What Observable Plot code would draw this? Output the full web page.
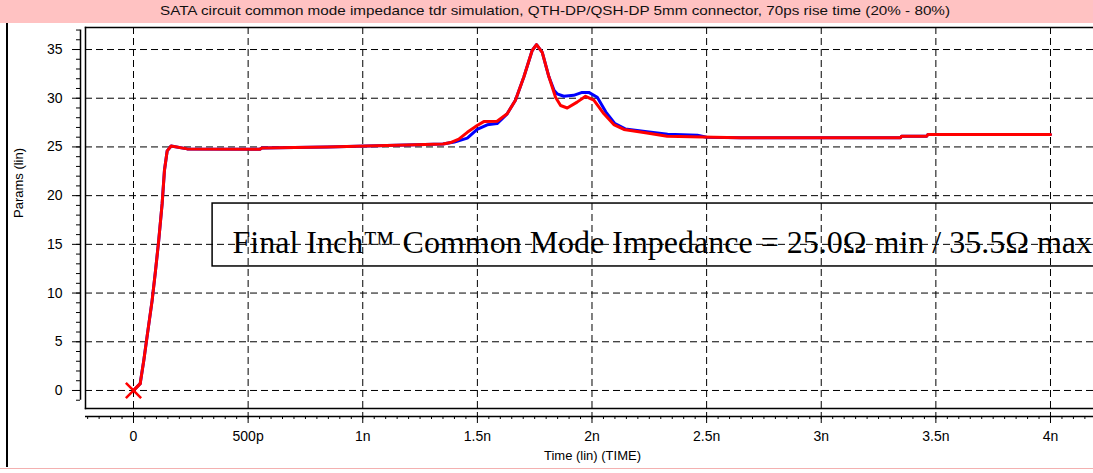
<!DOCTYPE html>
<html>
<head>
<meta charset="utf-8">
<script src="https://cdn.jsdelivr.net/npm/d3@7"></script>
<script src="https://cdn.jsdelivr.net/npm/@observablehq/plot@0.6"></script>
<style>
  html, body { margin: 0; padding: 0; background: white; }
  #wrap { position: relative; width: 1093px; height: 473px; overflow: hidden; background: white; }
  #titlebar { position: absolute; left: 0; top: 0; width: 1093px; height: 23px; background: #ffc2c2; }
  #title { position: absolute; left: 160px; top: 3px; font: 13px "Liberation Sans", Arial, sans-serif; color: #111; white-space: nowrap; transform-origin: 0 0; }
  #chart { position: absolute; left: 0; top: 23px; }
  #leftborder { position: absolute; left: 6px; top: 23px; width: 2px; height: 444px; background: #000; }
  #bottomline { position: absolute; left: 0; top: 468px; width: 1093px; height: 1px; background: #f4b0b0; }
</style>
</head>
<body>
<div id="wrap">
  <div id="titlebar"><span id="title"></span></div>
  <div id="chart"></div>
  <div id="leftborder"></div>
  <div id="bottomline"></div>
</div>
<script>
// ---- data ----
const titleText = "SATA circuit common mode impedance tdr simulation, QTH-DP/QSH-DP 5mm connector, 70ps rise time (20% - 80%)";
const xLabel = "Time (lin) (TIME)";
const yLabel = "Params (lin)";

const xTickValues = [0, 0.5, 1, 1.5, 2, 2.5, 3, 3.5, 4];
const xTickLabels = ["0", "500p", "1n", "1.5n", "2n", "2.5n", "3n", "3.5n", "4n"];
const yTickValues = [0, 5, 10, 15, 20, 25, 30, 35];

// time in ns, impedance in ohms
const redT = [0, 0.029, 0.045, 0.059, 0.081, 0.096, 0.11, 0.125, 0.135, 0.147, 0.164, 0.234, 0.55, 0.56, 0.845, 1.19, 1.35, 1.383, 1.419, 1.456, 1.499, 1.528, 1.586, 1.63, 1.666, 1.703, 1.739, 1.758, 1.783, 1.812, 1.841, 1.863, 1.892, 1.935, 1.972, 2.008, 2.052, 2.095, 2.139, 2.24, 2.328, 2.531, 2.648, 3.346, 3.35, 3.46, 3.465, 4.0];
const redV = [0, 0.7, 3.1, 5.5, 9.2, 12.3, 15.4, 19.2, 22.6, 24.6, 25.1, 24.8, 24.75, 24.9, 25.0, 25.2, 25.3, 25.45, 25.8, 26.5, 27.2, 27.6, 27.64, 28.4, 29.8, 32.2, 34.9, 35.5, 34.7, 32.2, 30.1, 29.25, 29.0, 29.6, 30.2, 29.8, 28.4, 27.3, 26.8, 26.44, 26.1, 26.0, 25.93, 25.93, 26.1, 26.1, 26.28, 26.28];

const blueT = [0, 0.029, 0.045, 0.059, 0.081, 0.096, 0.11, 0.125, 0.135, 0.147, 0.164, 0.234, 0.55, 0.56, 0.845, 1.19, 1.35, 1.40, 1.456, 1.499, 1.543, 1.586, 1.63, 1.666, 1.703, 1.739, 1.758, 1.783, 1.812, 1.835, 1.848, 1.877, 1.92, 1.957, 1.986, 2.023, 2.06, 2.1, 2.145, 2.24, 2.33, 2.46, 2.5, 2.648, 3.346, 3.35, 3.46, 3.465, 4.0];
const blueV = [0, 0.7, 3.1, 5.5, 9.2, 12.3, 15.4, 19.2, 22.6, 24.6, 25.1, 24.8, 24.75, 24.9, 25.0, 25.2, 25.3, 25.5, 25.9, 26.8, 27.27, 27.4, 28.4, 29.8, 32.2, 34.9, 35.5, 34.7, 32.2, 30.8, 30.45, 30.2, 30.3, 30.6, 30.6, 30.1, 28.6, 27.4, 26.85, 26.55, 26.3, 26.2, 26.0, 25.93, 25.93, 26.1, 26.1, 26.28, 26.28];

const markerT = [0];
const markerV = [0];

const annoText = "Final Inch\u2122 Common Mode Impedance = 25.0\u03A9 min / 35.5\u03A9 max";
const annoTextAt = [{t: 0.432, v: 14.1}];
const annoBox = [{t1: 0.345, t2: 4.6, v1: 12.73, v2: 19.19}];

// ---- build ----
const red = redT.map((t, i) => ({t, v: redV[i]}));
const blue = blueT.map((t, i) => ({t, v: blueV[i]}));
const marker = markerT.map((t, i) => ({t, v: markerV[i]}));

const xDomain = [-0.2094, 4.1876];
const yDomain = [-1.85, 37.26];
const fmt = d => xTickLabels[xTickValues.indexOf(d)] ?? "";

const chart = Plot.plot({
  width: 1093,
  height: 445,
  marginLeft: 85,
  marginRight: 0,
  marginTop: 4,
  marginBottom: 60,
  x: {domain: xDomain, axis: null},
  y: {domain: yDomain, axis: null},
  style: {fontFamily: "'Liberation Sans', Arial, sans-serif", fontSize: "14px", color: "black", background: "white"},
  marks: [
    // grid
    Plot.ruleX(xTickValues, {stroke: "black", strokeWidth: 1, strokeDasharray: "7,4"}),
    Plot.ruleY(yTickValues, {stroke: "black", strokeWidth: 1, strokeDasharray: "7,4"}),
    // frame (top, left, bottom)
    Plot.frame({anchor: "top", stroke: "black", strokeWidth: 1.5}),
    Plot.frame({anchor: "left", stroke: "black", strokeWidth: 1.5}),
    Plot.frame({anchor: "bottom", stroke: "black", strokeWidth: 1.5}),
    // y axis (offset to the left of the frame)
    Plot.ruleX([xDomain[0]], {y1: -1, y2: 37, dx: -5, stroke: "black", strokeWidth: 1.5}),
    Plot.axisY({ticks: d3.range(-1, 38, 1), tickSize: 4, dx: -5, text: null, stroke: "black"}),
    Plot.axisY({ticks: yTickValues, tickSize: 8, dx: -5, tickPadding: 10, stroke: "black", fill: "black", fontSize: 14}),
    // x axis (offset below the frame)
    Plot.ruleY([yDomain[0]], {dy: 8, stroke: "black", strokeWidth: 1.5}),
    Plot.axisX({ticks: d3.range(-0.2, 4.19, 0.05), tickSize: 3, dy: 8, text: null, stroke: "black"}),
    Plot.axisX({ticks: xTickValues, tickFormat: fmt, tickSize: 11, dy: 4, tickPadding: 8, stroke: "black", fill: "black", fontSize: 14}),
    // axis labels
    Plot.text([xLabel], {frameAnchor: "bottom", dx: 3, dy: 47, lineAnchor: "middle", fontSize: 13, fill: "black"}),
    Plot.text([yLabel], {frameAnchor: "left", dx: -67, rotate: -90, lineAnchor: "middle", fontSize: 13, fill: "black"}),
    // annotation box
    Plot.rect(annoBox, {x1: "t1", x2: "t2", y1: "v1", y2: "v2", fill: "none", stroke: "black", strokeWidth: 1.5}),
    Plot.text(annoTextAt, {x: "t", y: "v", text: () => annoText, textAnchor: "start", lineAnchor: "bottom", fontFamily: "'Liberation Serif', 'Times New Roman', serif", fontSize: 32, fill: "black"}),
    // series
    Plot.line(blue, {x: "t", y: "v", stroke: "#0000ff", strokeWidth: 3}),
    Plot.line(red, {x: "t", y: "v", stroke: "#ff0000", strokeWidth: 3}),
    Plot.dot(marker, {x: "t", y: "v", symbol: "times", r: 7, stroke: "#ff0000", strokeWidth: 2.5})
  ]
});
document.getElementById("chart").appendChild(chart);

const title = document.getElementById("title");
title.textContent = titleText;
const w = title.getBoundingClientRect().width;
title.style.transform = `scaleX(${790 / w})`;
</script>
</body>
</html>
